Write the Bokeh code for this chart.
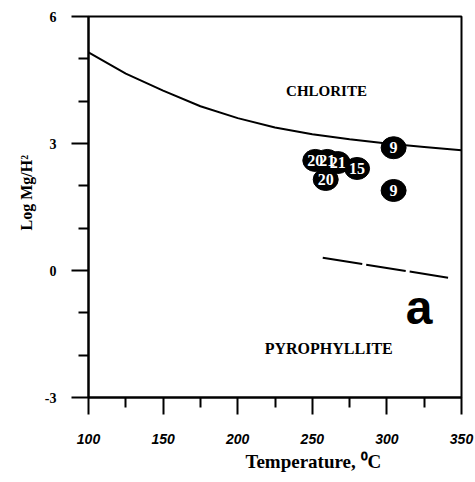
from bokeh.plotting import figure
from bokeh.models import FixedTicker, Range1d, Title
from bokeh.embed import file_html
from bokeh.resources import INLINE
from bokeh.core.properties import value

# ---- data ----
curve_T = [100, 125, 150, 175, 200, 225, 250, 275, 300, 325, 350]
curve_logY = [5.15, 4.65, 4.25, 3.88, 3.60, 3.38, 3.22, 3.10, 3.00, 2.92, 2.84]

dash_T = [257, 341]
dash_logY = [0.30, -0.17]

pt_T = [252, 260, 267, 259, 280, 304.5, 304.5]
pt_logY = [2.60, 2.60, 2.55, 2.15, 2.41, 2.90, 1.89]
pt_labels = ["20", "21", "21", "20", "15", "9", "9"]

x_ticks = [100, 150, 200, 250, 300, 350]
x_minor = [125, 175, 225, 275, 325]
y_ticks = [-3, 0, 3, 6]
y_minor = [-2, -1, 1, 2, 4, 5]
y_tick_labels = {-3: "-3", 0: "0", 3: "3", 6: "6"}

serif = "Liberation Serif"
sans = "Liberation Sans"

p = figure(frame_width=373, frame_height=381, width=475, height=478,
           x_range=Range1d(100, 350), y_range=Range1d(-3, 6),
           output_backend="svg", toolbar_location=None,
           min_border_left=88, min_border_right=14, min_border_top=16, min_border_bottom=81)
p.background_fill_color = "white"
p.border_fill_color = "white"
p.xgrid.visible = False
p.ygrid.visible = False
p.outline_line_color = "black"
p.outline_line_width = 2
p.outline_line_alpha = 1

p.xaxis.ticker = FixedTicker(ticks=x_ticks, minor_ticks=x_minor)
p.yaxis.ticker = FixedTicker(ticks=y_ticks, minor_ticks=y_minor)
p.yaxis.major_label_overrides = y_tick_labels
for ax in (p.xaxis, p.yaxis):
    ax.axis_line_width = 2
    ax.axis_line_color = "black"
    ax.major_tick_line_width = 2
    ax.minor_tick_line_width = 2
    ax.major_tick_line_color = "black"
    ax.minor_tick_line_color = "black"
    ax.major_tick_in = 0
    ax.minor_tick_in = 0
    ax.major_tick_out = 17
    ax.minor_tick_out = 10
    ax.major_label_text_font_style = "bold"
    ax.major_label_text_color = "black"

p.xaxis.major_label_text_font = sans
p.xaxis.major_label_text_font_style = "bold italic"
p.xaxis.major_label_text_font_size = "14px"
p.xaxis.major_label_standoff = 19
p.yaxis.major_label_text_font = serif
p.yaxis.major_label_text_font_size = "14px"
p.yaxis.major_label_standoff = 15

# boundary curve
p.line(curve_T, curve_logY, line_color="black", line_width=2)
# dashed line
p.line(dash_T, dash_logY, line_color="black", line_width=2, line_dash="40 4")

# sample points
p.ellipse(pt_T, pt_logY, width=25, height=22, width_units="screen", height_units="screen",
          fill_color="black", line_color="black")
p.text(pt_T, pt_logY, text=pt_labels, text_color="white", text_font=value(serif),
       text_font_style="bold", text_font_size="16px", text_align="center", text_baseline="middle")

# field labels
p.text([259.5], [4.25], text=["CHLORITE"], text_font=value(serif), text_font_style="bold",
       text_font_size="15px", text_align="center", text_baseline="middle", text_color="black")
p.text([261], [-1.85], text=["PYROPHYLLITE"], text_font=value(serif), text_font_style="bold",
       text_font_size="16px", text_align="center", text_baseline="middle", text_color="black")
p.text([321.5], [-0.88], text=["a"], text_font=value(sans), text_font_style="bold",
       text_font_size="48px", text_align="center", text_baseline="alphabetic", text_color="black")

# axis titles
p.add_layout(Title(text="Temperature, \u2070C", text_font=serif, text_font_style="bold",
                   text_font_size="19px", align="left", offset=157, standoff=4,
                   text_color="black"), "below")
p.add_layout(Title(text="Log Mg/H\u00b2", text_font=serif, text_font_style="bold",
                   text_font_size="16px", align="left", offset=167, standoff=14,
                   text_color="black"), "left")

open("out.html", "w").write(file_html(p, INLINE))
